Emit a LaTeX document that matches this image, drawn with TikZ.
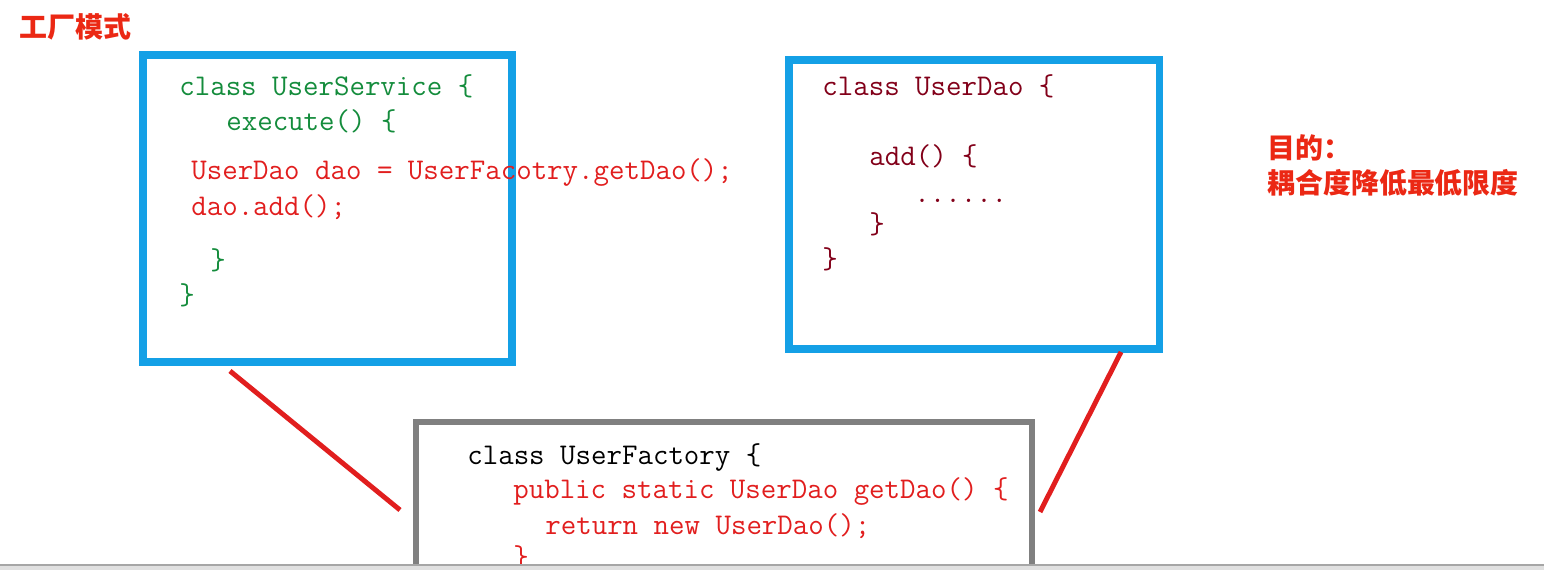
\documentclass[tikz,border=0pt]{standalone}
\usepackage{fontspec}
\newfontfamily\cjk{Noto Sans CJK SC}
\definecolor{codegreen}{RGB}{20,140,60}
\definecolor{codered}{RGB}{225,30,30}
\definecolor{daored}{RGB}{130,0,25}
\definecolor{boxblue}{RGB}{20,160,230}
\definecolor{notered}{RGB}{235,40,20}
\begin{document}
\begin{tikzpicture}[x=0.02cm,y=-0.02cm,
  code/.style={anchor=base west,inner sep=0,font=\ttfamily\fontsize{17.1}{20}\selectfont},
  note/.style={anchor=base west,inner sep=0,text=notered,font=\cjk\bfseries\fontsize{15.9}{18}\selectfont},
  bluebox/.style={draw=boxblue,line width=4pt},
  graybox/.style={draw=black!50,line width=3.4pt},
  link/.style={draw=codered,line width=2.8pt}]

\useasboundingbox (0,0) rectangle (1544,570);
\clip (0,0) rectangle (1544,570);

\node[note] (title) at (19,38) {工厂模式};

% UserService
\draw[bluebox] (143,55) rectangle (512,362);
\node[code,text=codegreen] (s1) at (179,96) {class UserService \{};
\node[code,text=codegreen] (s2) at (226,131) {execute() \{};
\node[code,text=codered] (s3) at (191,180) {UserDao dao = UserFacotry.getDao();};
\node[code,text=codered] (s4) at (191,216) {dao.add();};
\node[code,text=codegreen] (s5) at (210,270) {\}};
\node[code,text=codegreen] (s6) at (179,305) {\}};

% UserDao
\draw[bluebox] (789,60) rectangle (1159,349);
\node[code,text=daored] (d1) at (822,96) {class UserDao \{};
\node[code,text=daored] (d2) at (869,166) {add() \{};
\node[code,text=daored] (d3) at (914,203) {......};
\node[code,text=daored] (d4) at (869,234) {\}};
\node[code,text=daored] (d5) at (822,269) {\}};

\node[note] (aim1) at (1267,159) {目的：};
\node[note] (aim2) at (1267,194) {耦合度降低最低限度};

% UserFactory
\draw[graybox] (416,422) rectangle (1032,600);
\node[code,text=black] (f1) at (467,464) {class UserFactory \{};
\node[code,text=codered] (f2) at (513,499) {public static UserDao getDao() \{};
\node[code,text=codered] (f3) at (545,534) {return new UserDao();};
\node[code,text=codered] (f4) at (513,566) {\}};

\coordinate (svcfoot) at (230,371);
\coordinate (facleft) at (400,510);
\coordinate (daofoot) at (1121,352);
\coordinate (facright) at (1040,512);
\draw[link] (svcfoot) -- (facleft);
\draw[link] (daofoot) -- (facright);

\fill[black!12] (0,565) rectangle (1544,570);
\draw[black!35,line width=0.8pt] (0,565) -- (1544,565);

\end{tikzpicture}
\end{document}
